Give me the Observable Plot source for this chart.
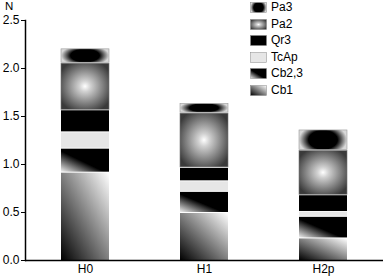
<!DOCTYPE html>
<html><head><meta charset="utf-8">
<script src="https://cdn.jsdelivr.net/npm/d3@7"></script>
<script src="https://cdn.jsdelivr.net/npm/@observablehq/plot@0.6"></script>
<style>
body{margin:0;background:#fff;font-family:"Liberation Sans",Arial,sans-serif;}
#wrap{position:relative;width:386px;height:277px;}
#ylab{position:absolute;left:5px;top:0px;font-size:11.5px;line-height:12.8px;}
#legend{position:absolute;left:250px;top:2px;font-size:12px;}
.row{position:absolute;left:0;height:11px;white-space:nowrap;}
.row svg{position:absolute;left:0;top:0;}
.row span{position:absolute;left:21px;top:-3px;line-height:16px;}
</style></head><body>
<svg width="0" height="0" style="position:absolute">
<defs>
<linearGradient id="gCb1" x1="0" y1="1" x2="1" y2="0"><stop offset="0" stop-color="#000"/><stop offset="1" stop-color="#fff"/></linearGradient>
<linearGradient id="gCb23" x1="0" y1="1" x2="1" y2="0"><stop offset="0" stop-color="#f0f0f0"/><stop offset="0.45" stop-color="#000"/><stop offset="1" stop-color="#000"/></linearGradient>
<radialGradient id="gPa2" cx="0.5" cy="0.5" r="0.6"><stop offset="0" stop-color="#fff"/><stop offset="0.2" stop-color="#d0d0d0"/><stop offset="1" stop-color="#3a3a3a"/></radialGradient>
<radialGradient id="gPa3" cx="0.5" cy="0.5" r="0.5" gradientTransform="translate(0.5,0.5) scale(1,1.6) translate(-0.5,-0.5)"><stop offset="0" stop-color="#000"/><stop offset="0.6" stop-color="#000"/><stop offset="1" stop-color="#d8d8d8"/></radialGradient>
</defs></svg>
<div id="wrap"><div id="ylab">N</div><div id="legend"></div></div>
<script>
const groups = ["H0", "H1", "H2p"];
const series = ["Cb1", "Cb2,3", "TcAp", "Qr3", "Pa2", "Pa3"];
const Cb1  = [0.92, 0.50, 0.235];
const Cb23 = [0.25, 0.22, 0.225];
const TcAp = [0.17, 0.11, 0.05];
const Qr3  = [0.23, 0.14, 0.175];
const Pa2  = [0.49, 0.57, 0.465];
const Pa3  = [0.15, 0.10, 0.215];
const yTicks = [0, 0.5, 1.0, 1.5, 2.0, 2.5];
const legendOrder = ["Pa3", "Pa2", "Qr3", "TcAp", "Cb2,3", "Cb1"];

const fills = {"Cb1":"url(#gCb1)","Cb2,3":"url(#gCb23)","TcAp":"#e6e6e6","Qr3":"#000","Pa2":"url(#gPa2)","Pa3":"url(#gPa3)"};
const strokes = {"Cb1":"none","Cb2,3":"none","TcAp":"none","Qr3":"none","Pa2":"#777","Pa3":"#999"};
const vals = [Cb1, Cb23, TcAp, Qr3, Pa2, Pa3];
const data = [];
groups.forEach((g, i) => series.forEach((s, j) => data.push({group: g, series: s, value: vals[j][i]})));

const plot = Plot.plot({
  width: 386, height: 277,
  marginLeft: 25, marginRight: 3, marginTop: 20, marginBottom: 17,
  style: {fontFamily: "'Liberation Sans', Arial, sans-serif", fontSize: "12px", background: "white", color: "black", overflow: "visible"},
  x: {domain: groups, paddingInner: 0.6, paddingOuter: 0.3, label: null, tickSize: 0, tickPadding: 4},
  y: {domain: [0, 2.5], ticks: yTicks, tickSize: 4, tickPadding: 2, tickFormat: d3.format(".1f"), label: null},
  color: {type: "identity"},
  marks: [
    Plot.barY(data, {x: "group", y: "value", z: "series", order: series, fill: d => fills[d.series], stroke: d => strokes[d.series], strokeWidth: 0.6, insetTop: 1}),
    Plot.ruleY([0], {stroke: "black", strokeWidth: 1.5}),
    Plot.frame({anchor: "left", stroke: "black", strokeWidth: 1.5})
  ]
});
document.getElementById("wrap").appendChild(plot);
plot.style.display = "block";

const leg = document.getElementById("legend");
legendOrder.forEach((s, i) => {
  const row = document.createElement("div");
  row.className = "row";
  row.style.top = (i * 16.6) + "px";
  row.innerHTML = `<svg width="17" height="11"><rect x="0.5" y="0.5" width="16" height="10" fill="${fills[s]}" stroke="#888" stroke-width="0.5"/></svg><span>${s}</span>`;
  leg.appendChild(row);
});
</script>
</body></html>
